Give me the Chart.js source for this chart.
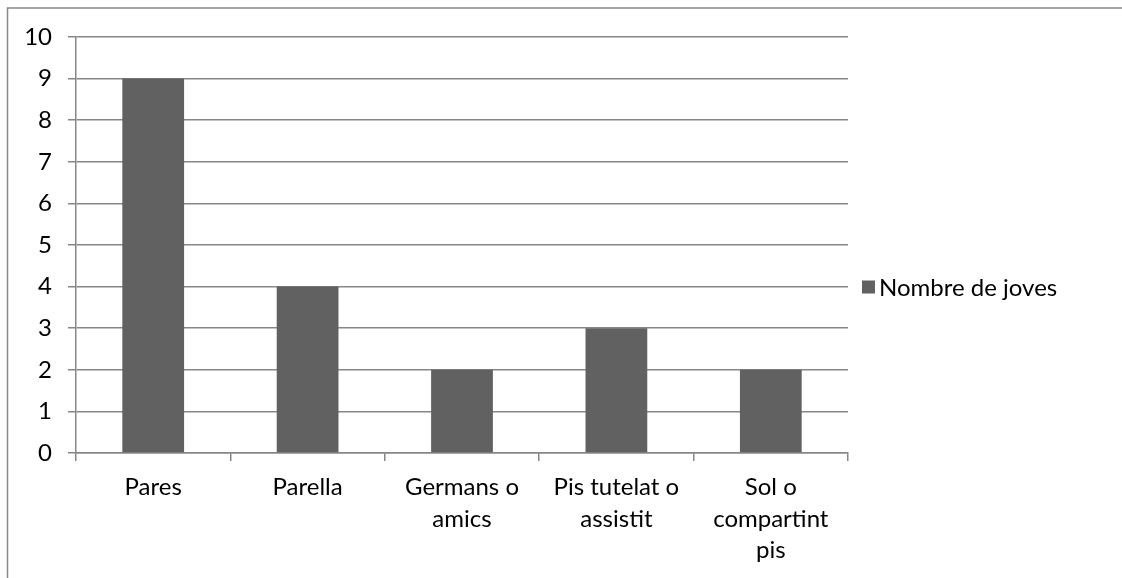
<!DOCTYPE html>
<html>
<head>
<meta charset="utf-8">
<script src="https://cdn.jsdelivr.net/npm/chart.js@4"></script>
<style>
  html, body { margin: 0; padding: 0; background: #fff; }
  #wrap { width: 1122px; height: 578px; position: relative; }
</style>
</head>
<body>
<div id="wrap"><canvas id="chart"></canvas></div>
<script>
// data
const categories = [
  "Pares",
  "Parella",
  ["Germans o", "amics"],
  ["Pis tutelat o", "assistit"],
  ["Sol o", "compartint", "pis"]
];
const seriesLabel = "Nombre de joves";
const seriesValues = [9, 4, 2, 3, 2];

const BAR_COLOR = "#616161";
const LINE_COLOR = "#878787";
const FONT = "Lato";

// outer frame of the chart object (only top and left edges visible)
const framePlugin = {
  id: "frame",
  beforeDraw(chart) {
    const ctx = chart.ctx;
    ctx.save();
    ctx.strokeStyle = LINE_COLOR;
    ctx.lineWidth = 1.5;
    ctx.beginPath();
    ctx.moveTo(7.5, chart.height);
    ctx.lineTo(7.5, 8);
    ctx.lineTo(chart.width, 8);
    ctx.stroke();
    ctx.restore();
  }
};

// legend sits to the right, lower than the plot centre, like the original
const sideLegend = {
  id: "sideLegend",
  afterDraw(chart) {
    const ctx = chart.ctx;
    const ds = chart.data.datasets[0];
    const y = 287;
    ctx.save();
    ctx.fillStyle = ds.backgroundColor;
    ctx.fillRect(862, y - 6.5, 13, 13);
    ctx.fillStyle = "#000";
    ctx.font = "24px " + FONT;
    ctx.textBaseline = "middle";
    ctx.textAlign = "left";
    ctx.fillText(ds.label, 879, y + 1);
    ctx.restore();
  }
};

new Chart(document.getElementById("chart"), {
  type: "bar",
  data: {
    labels: categories,
    datasets: [{
      label: seriesLabel,
      data: seriesValues,
      backgroundColor: BAR_COLOR,
      borderWidth: 0,
      categoryPercentage: 1,
      barPercentage: 0.4
    }]
  },
  options: {
    responsive: true,
    maintainAspectRatio: false,
    animation: false,
    layout: { padding: { left: 0, top: 37, right: 274, bottom: 0 } },
    plugins: {
      legend: { display: false },
      tooltip: { enabled: false }
    },
    scales: {
      x: {
        offset: true,
        afterFit(axis) { axis.height = 125; },
        grid: {
          offset: true,
          drawOnChartArea: false,
          drawTicks: true,
          tickLength: 8,
          color: LINE_COLOR,
          lineWidth: 1.5
        },
        border: { display: true, color: LINE_COLOR, width: 1.5 },
        ticks: {
          color: "#000",
          padding: 11,
          maxRotation: 0,
          autoSkip: false,
          font: { family: FONT, size: 24, lineHeight: 1.3 }
        }
      },
      y: {
        min: 0,
        max: 10,
        afterFit(axis) { axis.width = 76; },
        grid: {
          color: LINE_COLOR,
          lineWidth: 1.5,
          tickLength: 8
        },
        border: { display: true, color: LINE_COLOR, width: 1.5 },
        ticks: {
          stepSize: 1,
          color: "#000",
          padding: 16,
          font: { family: FONT, size: 24 }
        }
      }
    }
  },
  plugins: [framePlugin, sideLegend]
});
</script>
</body>
</html>
